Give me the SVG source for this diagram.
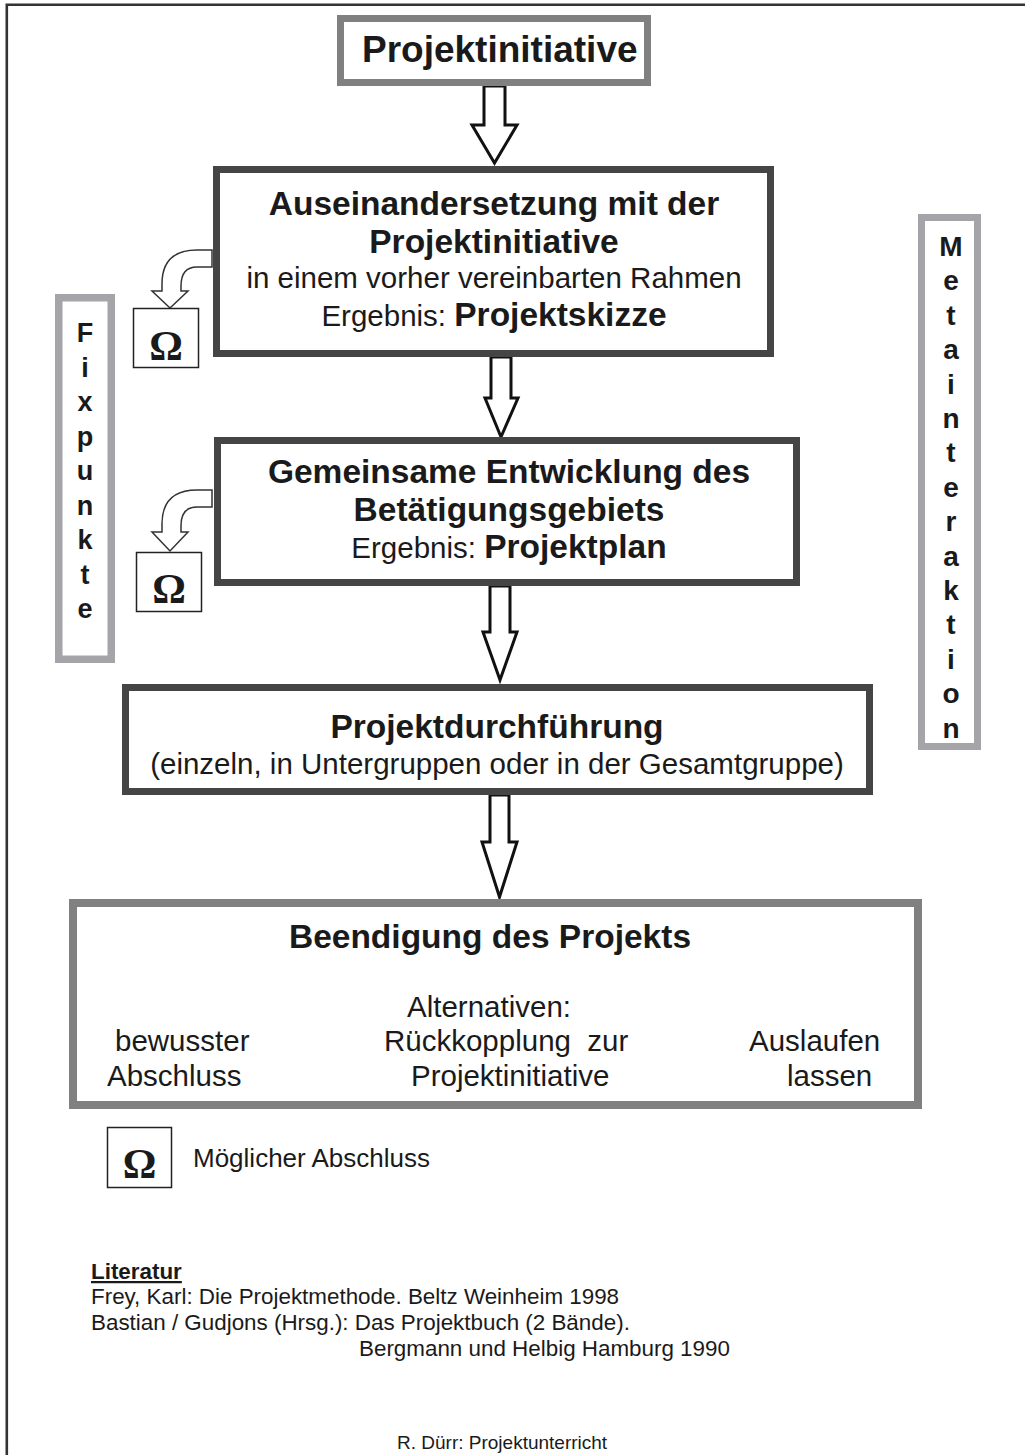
<svg xmlns="http://www.w3.org/2000/svg" width="1025" height="1455" viewBox="0 0 1025 1455">
<style>
.b{font-family:"Liberation Sans",Arial,sans-serif;font-weight:bold;fill:#1a1a1a}
.r{font-family:"Liberation Sans",Arial,sans-serif;fill:#1a1a1a}
.om{font-family:"Liberation Serif","Times New Roman",serif;font-size:42px;font-weight:bold;fill:#1a1a1a;text-anchor:middle}
.arrow{fill:#fff;stroke:#111;stroke-width:3;stroke-linejoin:miter}
.curv{fill:#fff;stroke:#333;stroke-width:1.5}
.obox{fill:#fff;stroke:#222;stroke-width:1.5}
.dark{fill:#fff;stroke:#454545;stroke-width:7}
.mid{fill:#fff;stroke:#808080}
.light{fill:#fff;stroke:#a5a5a9}
.c{text-anchor:middle}
</style>
<rect width="1025" height="1455" fill="#fff"/>
<path d="M6.8,1455 V4.7 H1025" fill="none" stroke="#333" stroke-width="2.6"/>

<g id="connectors">
<polygon class="arrow" points="484,86 505,86 505,125 517,125 494.5,163 472,125 484,125"/>
<polygon class="arrow" points="491,357 511,357 511,398 518,398 501,437 485,398 491,398"/>
<polygon class="arrow" points="490,586 510,586 510,632 517,632 500,680 483,632 490,632"/>
<polygon class="arrow" points="490,795 509,795 509,842 517,842 499.5,897 482,842 490,842"/>
<path class="curv" d="M212,250 H197 Q162,250 162,284 V291 H152 L170,308 L188,291 H181 V286 Q181,267 197,267 H212 Z"/>
<path class="curv" d="M212,490 H197 Q162,490 162,524 V532 H152 L170,551 L188,532 H181 V526 Q181,507 197,507 H212 Z"/>
</g>

<g id="projektinitiative">
<rect class="mid" x="340.5" y="18.5" width="307" height="64" stroke-width="7"/>
<text class="b" x="362" y="62" font-size="37">Projektinitiative</text>
</g>

<g id="auseinandersetzung">
<rect class="dark" x="216.5" y="169.5" width="554" height="184"/>
<text class="b c" x="494" y="215" font-size="33.5">Auseinandersetzung mit der</text>
<text class="b c" x="494" y="253" font-size="33.5">Projektinitiative</text>
<text class="r c" x="494" y="288" font-size="29.5">in einem vorher vereinbarten Rahmen</text>
<text class="c" x="494" y="326"><tspan class="r" font-size="29.5">Ergebnis: </tspan><tspan class="b" font-size="33.5">Projektskizze</tspan></text>
</g>

<g id="entwicklung">
<rect class="dark" x="217.5" y="440.5" width="579" height="142"/>
<text class="b c" x="509" y="483" font-size="33.5">Gemeinsame Entwicklung des</text>
<text class="b c" x="509" y="521" font-size="33.5">Betätigungsgebiets</text>
<text class="c" x="509" y="558"><tspan class="r" font-size="29.5">Ergebnis: </tspan><tspan class="b" font-size="33.5">Projektplan</tspan></text>
</g>

<g id="durchfuehrung">
<rect class="dark" x="125.5" y="687.5" width="744" height="104"/>
<text class="b c" x="497" y="738" font-size="33.5">Projektdurchführung</text>
<text class="r c" x="497" y="774" font-size="29.5">(einzeln, in Untergruppen oder in der Gesamtgruppe)</text>
</g>

<g id="beendigung">
<rect class="mid" x="73" y="903" width="845" height="202" stroke-width="8"/>
<text class="b c" x="490" y="948" font-size="33.5">Beendigung des Projekts</text>
<text class="r" x="407" y="1017" font-size="29.5">Alternativen:</text>
<text class="r" x="115" y="1051" font-size="29.5">bewusster</text>
<text class="r" x="107" y="1086" font-size="29.5">Abschluss</text>
<text class="r" x="384" y="1051" font-size="29.5" xml:space="preserve">Rückkopplung  zur</text>
<text class="r" x="411" y="1086" font-size="29.5">Projektinitiative</text>
<text class="r" x="749" y="1051" font-size="29.5">Auslaufen</text>
<text class="r" x="787" y="1086" font-size="29.5">lassen</text>
</g>

<g id="fixpunkte">
<rect class="light" x="58.75" y="297.75" width="52.5" height="361.5" stroke-width="7.5"/>
<text class="b c" font-size="27"><tspan x="85" y="342">F</tspan><tspan x="85" y="376.5">i</tspan><tspan x="85" y="411">x</tspan><tspan x="85" y="445.5">p</tspan><tspan x="85" y="480">u</tspan><tspan x="85" y="514.5">n</tspan><tspan x="85" y="549">k</tspan><tspan x="85" y="583.5">t</tspan><tspan x="85" y="618">e</tspan></text>
</g>

<g id="metainteraktion">
<rect class="light" x="921.5" y="217.5" width="56" height="529" stroke-width="7"/>
<text class="b c" font-size="28"><tspan x="951" y="256">M</tspan><tspan x="951" y="290.4">e</tspan><tspan x="951" y="324.8">t</tspan><tspan x="951" y="359.2">a</tspan><tspan x="951" y="393.6">i</tspan><tspan x="951" y="428">n</tspan><tspan x="951" y="462.4">t</tspan><tspan x="951" y="496.8">e</tspan><tspan x="951" y="531.2">r</tspan><tspan x="951" y="565.6">a</tspan><tspan x="951" y="600">k</tspan><tspan x="951" y="634.4">t</tspan><tspan x="951" y="668.8">i</tspan><tspan x="951" y="703.2">o</tspan><tspan x="951" y="737.6">n</tspan></text>
</g>

<g id="omega1">
<rect class="obox" x="133.5" y="308.5" width="65" height="59"/>
<text class="om" x="166" y="360">Ω</text>
</g>
<g id="omega2">
<rect class="obox" x="136.5" y="552.5" width="65" height="59"/>
<text class="om" x="169" y="603">Ω</text>
</g>

<g id="legend">
<rect class="obox" x="107.5" y="1127.5" width="64" height="60"/>
<text class="om" x="139.5" y="1178">Ω</text>
<text class="r" x="193" y="1167" font-size="26">Möglicher Abschluss</text>
</g>

<g id="literatur">
<text class="b" x="91" y="1279" font-size="22.4" text-decoration="underline">Literatur</text>
<text class="r" x="91" y="1304" font-size="22.4">Frey, Karl: Die Projektmethode. Beltz Weinheim 1998</text>
<text class="r" x="91" y="1330" font-size="22.4">Bastian / Gudjons (Hrsg.): Das Projektbuch (2 Bände).</text>
<text class="r" x="359" y="1356" font-size="22.4">Bergmann und Helbig Hamburg 1990</text>
</g>

<text class="r" x="397" y="1449" font-size="19">R. Dürr: Projektunterricht</text>
</svg>
